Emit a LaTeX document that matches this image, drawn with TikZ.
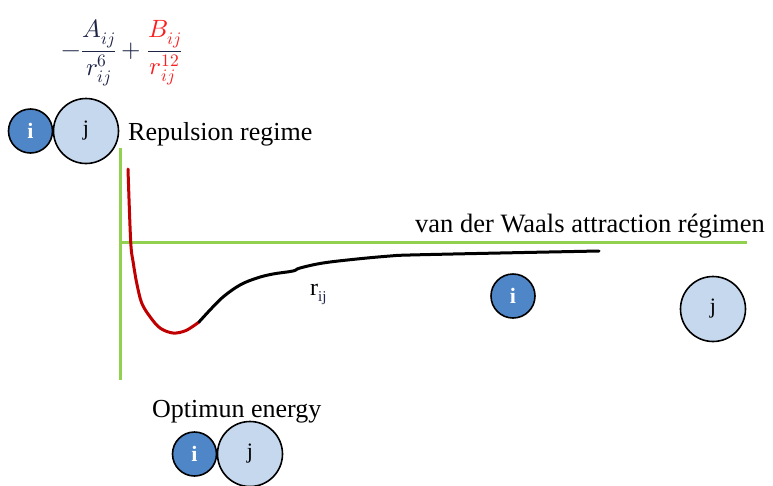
\documentclass[tikz,border=0pt]{standalone}
\usepackage{amsmath}
\usepackage{fontspec}
\usepackage{unicode-math}
\setmainfont{Liberation Serif}
\setmathfont{Latin Modern Math}
\definecolor{axisgreen}{RGB}{146,208,80}
\definecolor{curvered}{RGB}{192,0,0}
\definecolor{atomi}{RGB}{79,134,200}
\definecolor{atomj}{RGB}{198,216,238}
\definecolor{navy}{RGB}{30,36,70}
\definecolor{formred}{RGB}{250,30,30}
\begin{document}
\begin{tikzpicture}[x=1pt,y=-1pt,
  atomsmall/.style={circle,draw=black,line width=1.6pt,fill=atomi,minimum size=44pt,inner sep=0pt,
    text=white,font=\rmfamily\fontsize{22}{24}\selectfont\bfseries},
  atombig/.style={circle,draw=black,line width=1.6pt,fill=atomj,minimum size=65pt,inner sep=0pt,
    text=black,font=\rmfamily\fontsize{22}{24}\selectfont},
  lbl/.style={inner sep=0pt,anchor=base west,font=\rmfamily\fontsize{26}{30}\selectfont},
  axis/.style={draw=axisgreen,line width=3pt},
  curve/.style={line width=3pt,line cap=round}]
\useasboundingbox (0,0) rectangle (773,485);
% formula
\node[inner sep=0pt,text=navy,font=\fontsize{25}{29}\selectfont] (formula) at (122,53)
  {$-\dfrac{A_{ij}}{r_{ij}^{6}}+\dfrac{\color{formred}B_{ij}}{\color{formred}r_{ij}^{12}}$};
% axes
\coordinate (ytop) at (120,148);
\coordinate (ybot) at (120,380);
\coordinate (xl) at (120,242);
\coordinate (xr) at (747,242);
\draw[axis] (ytop) -- (ybot);
\draw[axis] (xl) -- (xr);
% curve
\draw[curve,draw=curvered] plot[smooth,tension=0.55] coordinates
  {(128,169) (130.7,241.7) (133.3,263) (136.7,283) (141.7,303) (150,316.7) (160,328) (173,333) (186,330.5) (199,322)};
\draw[curve,draw=black] plot[smooth,tension=0.6] coordinates
  {(199,322) (210,310) (223,297) (240,285) (257,278) (273,274) (293,271) (300,268) (323,263)
   (357,259) (390,256) (410,255) (500,253) (599,251)};
% atoms top
\node[atombig] (j1) at (86,131) {j};
\node[atomsmall] (i1) at (30.5,131) {i};
\node[lbl] (rep) at (128,140) {Repulsion regime};
% labels
\node[lbl,font=\rmfamily\fontsize{26.5}{30}\selectfont] (vdw) at (415,232) {van der Waals attraction régimen};
\node[lbl,font=\rmfamily\fontsize{24}{28}\selectfont] (rij) at (310,295) {r\textcolor{navy}{\raisebox{-0.25em}{\fontsize{15}{17}\selectfont ij}}};
% atoms middle
\node[atomsmall] (i2) at (513,296) {i};
\node[atombig] (j2) at (713,309) {j};
% bottom
\node[lbl] (opt) at (152,417) {Optimun energy};
\node[atombig] (j3) at (250,454) {j};
\node[atomsmall] (i3) at (194.5,454) {i};
\end{tikzpicture}
\end{document}
